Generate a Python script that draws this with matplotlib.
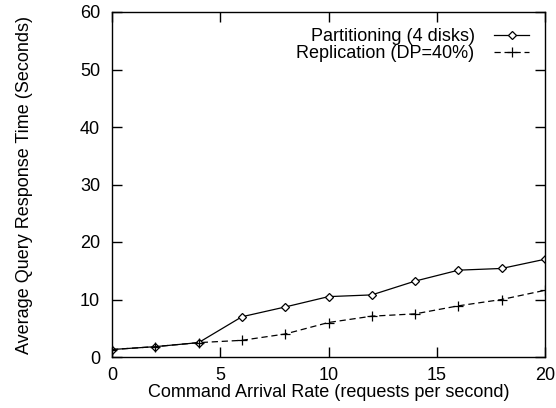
import matplotlib.pyplot as plt

plt.rcParams['font.family'] = ['Liberation Sans', 'DejaVu Sans']

# Arrival rate (requests per second)
arrival_rate = [0, 2, 4, 6, 8, 10, 12, 14, 16, 18, 20]

# Average query response time (seconds)
partitioning = [1.3, 1.8, 2.5, 7.0, 8.7, 10.5, 10.8, 13.2, 15.1, 15.4, 17.0]
replication = [1.3, 1.8, 2.5, 2.9, 4.0, 6.0, 7.1, 7.5, 8.9, 10.0, 11.6]

fs = 13

fig = plt.figure(figsize=(5.56, 4.08), dpi=100)
ax = fig.add_axes([112 / 556, 1 - 357 / 408, 433 / 556, 345 / 408])

ax.plot(arrival_rate, partitioning, color="black", linewidth=0.9,
        marker="D", markersize=4.5, markerfacecolor="white", markeredgewidth=0.9,
        label="Partitioning (4 disks)")
ax.plot(arrival_rate, replication, color="black", linewidth=0.9,
        linestyle=(0, (5, 3)), marker="+", markersize=7, markeredgewidth=0.9,
        label="Replication (DP=40%)")

ax.set_xlim(0, 20)
ax.set_ylim(0, 60)
ax.set_xticks(range(0, 21, 5))
ax.set_yticks(range(0, 61, 10))
ax.tick_params(direction="in", length=7, width=1, top=True, right=True,
               labelsize=fs)
ax.tick_params(axis="x", pad=7)
ax.tick_params(axis="y", pad=8.5)
for spine in ax.spines.values():
    spine.set_linewidth(1)

ax.set_xlabel("Command Arrival Rate (requests per second)", fontsize=fs, labelpad=0)
ax.set_ylabel("Average Query Response Time (Seconds)", fontsize=fs, labelpad=34)

ax.legend(loc="upper right", frameon=False, markerfirst=False, fontsize=fs,
          handlelength=1.9, handletextpad=1.1, labelspacing=0.0,
          borderaxespad=0.5)

plt.savefig("out.png", dpi=100)
